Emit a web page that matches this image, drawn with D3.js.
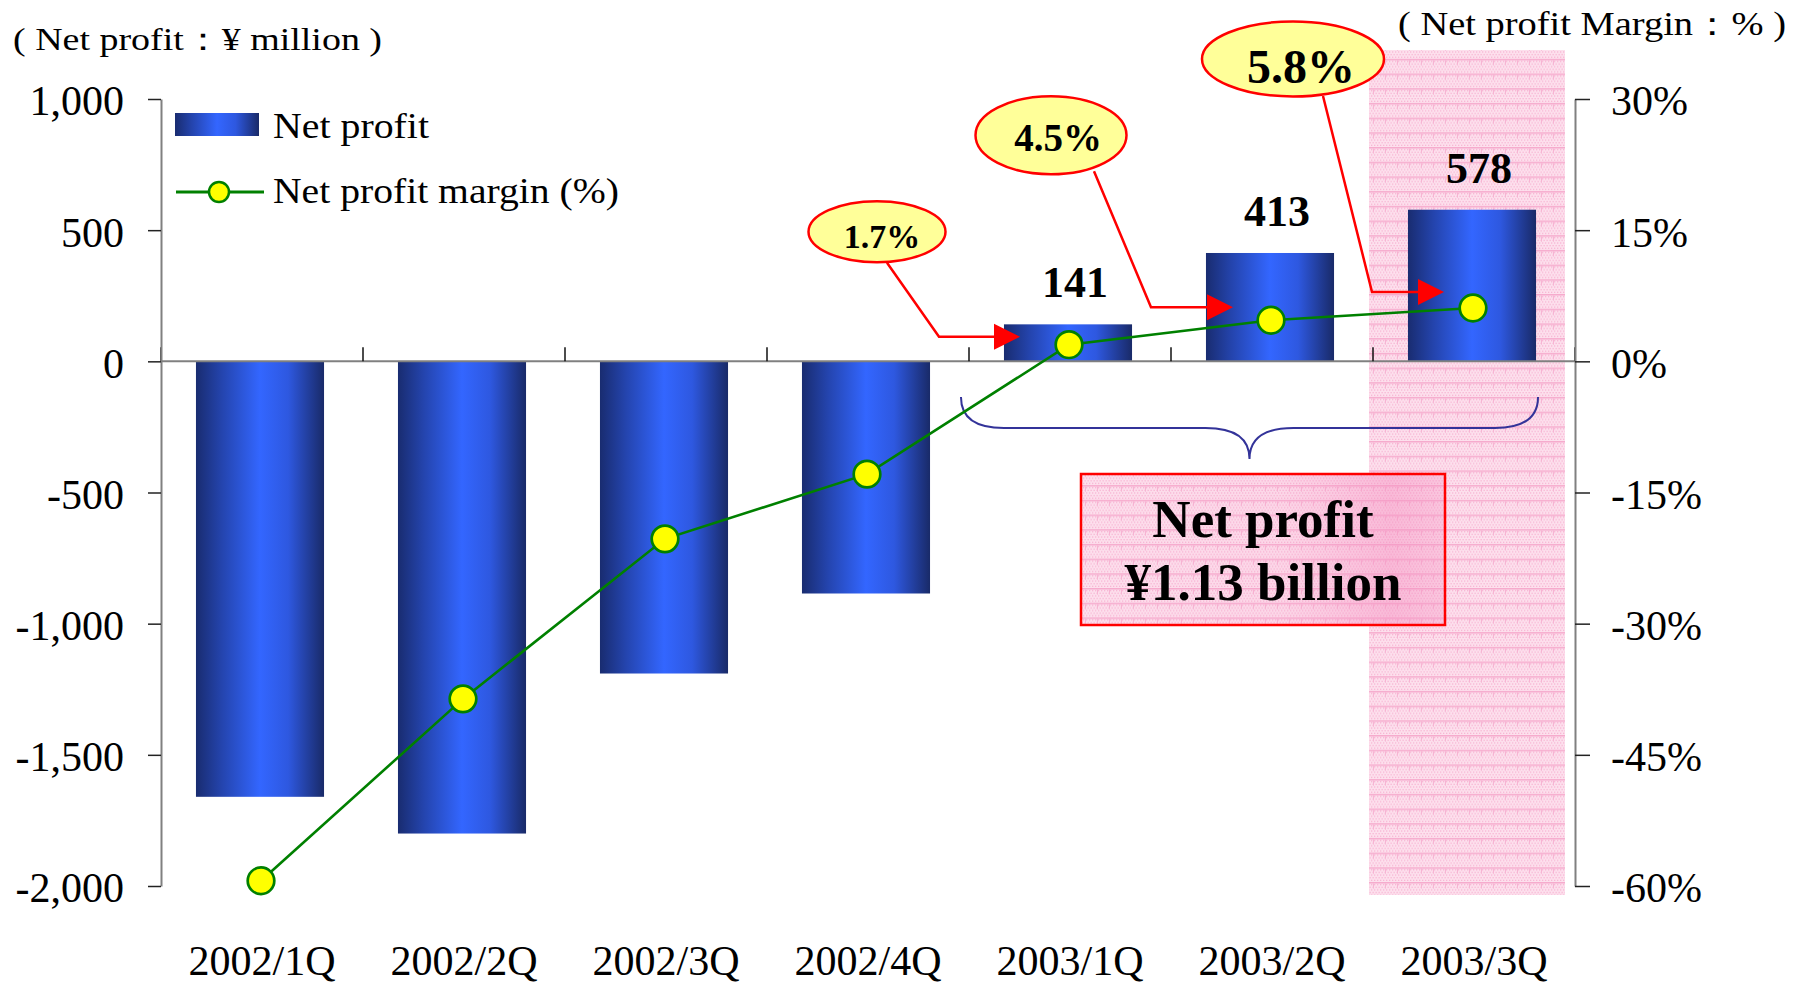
<!DOCTYPE html>
<html lang="en">
<head>
<meta charset="UTF-8">
<title>Net profit and net profit margin</title>
<script src="https://d3js.org/d3.v7.min.js"></script>
<style>
    body { margin: 0; background: #fff; }
    svg { display: block; }
    text { font-family: "Liberation Serif", "Times New Roman", serif; fill: #000; }
</style>
</head>
<body>
<script>
    // data
    const categories = ["2002/1Q", "2002/2Q", "2002/3Q", "2002/4Q", "2003/1Q", "2003/2Q", "2003/3Q"];
    const netProfit = [-1660, -1800, -1190, -885, 141, 413, 578];          // ¥ million
    const profitMargin = [-59.4, -38.6, -20.3, -12.9, 1.9, 4.7, 6.1];       // %
    const leftTicks = [-2000, -1500, -1000, -500, 0, 500, 1000];
    const leftTickLabels = ["-2,000", "-1,500", "-1,000", "-500", "0", "500", "1,000"];
    const rightTicks = [-60, -45, -30, -15, 0, 15, 30];
    const rightTickLabels = ["-60%", "-45%", "-30%", "-15%", "0%", "15%", "30%"];
    const calloutCats = ["2003/1Q", "2003/2Q", "2003/3Q"];
    const calloutTexts = ["1.7%", "4.5%", "5.8%"];
    const totalLines = ["Net profit", "¥1.13 billion"];

    const W = 1807, H = 986;
    const plotLeft = 161, plotRight = 1575, plotTop = 99, plotBottom = 886;

    const svg = d3.select("body").append("svg").attr("width", W).attr("height", H);
    const defs = svg.append("defs");

    // blue cylinder-ish gradient for the bars
    const grad = defs.append("linearGradient").attr("id", "barGrad")
        .attr("x1", 0).attr("x2", 1).attr("y1", 0).attr("y2", 0);
    [[0, "#192c70"], [0.2, "#2444ad"], [0.5, "#3366ff"], [0.72, "#2e58e0"], [1, "#192a68"]]
        .forEach(s => grad.append("stop").attr("offset", s[0]).attr("stop-color", s[1]));

    // pink paper texture
    const pat = defs.append("pattern").attr("id", "pinkTex")
        .attr("width", 12).attr("height", 14.7).attr("patternUnits", "userSpaceOnUse");
    pat.append("rect").attr("width", 12).attr("height", 14.7).attr("fill", "#fde0ed");
    for (let j = 0; j < 5; j++) {
        for (let i = 0; i < 4; i++) {
            pat.append("rect").attr("x", i * 3 + (j % 2) * 1.5).attr("y", 2 + j * 2.6)
                .attr("width", 1.3).attr("height", 1.3).attr("fill", "#f8b6d4");
        }
    }
    pat.append("rect").attr("width", 12).attr("height", 1.5).attr("fill", "#f6abcd");
    pat.append("rect").attr("x", 5).attr("y", 1.5).attr("width", 1).attr("height", 5).attr("fill", "#f7b4d3");

    const glow = defs.append("linearGradient").attr("id", "boxGlow")
        .attr("x1", 0).attr("x2", 1).attr("y1", 0).attr("y2", 0);
    [[0, "rgba(246,150,196,0)"], [0.55, "rgba(246,150,196,0.12)"], [0.85, "rgba(244,140,190,0.45)"], [1, "rgba(244,140,190,0.3)"]]
        .forEach(s => glow.append("stop").attr("offset", s[0]).attr("stop-color", s[1]));

    // scales
    const x = d3.scaleBand().domain(categories).range([plotLeft, plotRight]).paddingInner(0.366).paddingOuter(0.183);
    const bw = x.bandwidth();
    const xEdge = d3.scaleLinear().domain([0, categories.length]).range([plotLeft, plotRight]);
    const y = d3.scaleLinear().domain([-2000, 1000]).range([plotBottom, plotTop]);
    const yR = d3.scaleLinear().domain([-60, 30]).range([plotBottom, plotTop]);
    const cx = c => x(c) + bw / 2 - 1;

    // highlighted last quarter
    svg.append("rect")
        .attr("x", xEdge(6) - 4).attr("y", 50)
        .attr("width", xEdge(7) - xEdge(6) - 6).attr("height", 845)
        .attr("fill", "url(#pinkTex)");

    // bars
    svg.append("g").selectAll("rect").data(netProfit).join("rect")
        .attr("x", (d, i) => x(categories[i]) - 2)
        .attr("y", d => y(Math.max(0, d)))
        .attr("width", bw)
        .attr("height", d => Math.abs(y(d) - y(0)))
        .attr("fill", "url(#barGrad)");

    // zero line
    svg.append("line")
        .attr("x1", plotLeft).attr("x2", plotRight).attr("y1", y(0)).attr("y2", y(0))
        .attr("stroke", "#808080").attr("stroke-width", 2);

    // category separators on the zero line
    svg.append("g").selectAll("line").data(d3.range(categories.length + 1)).join("line")
        .attr("x1", d => xEdge(d)).attr("x2", d => xEdge(d))
        .attr("y1", y(0)).attr("y2", y(0) - 14)
        .attr("stroke", "#111").attr("stroke-width", 1.5);

    function styleAxis(g) {
        g.attr("font-size", 42).attr("font-family", "Liberation Serif, serif");
        g.select(".domain").attr("stroke", "#808080").attr("stroke-width", 2);
        g.selectAll(".tick line").attr("stroke", "#222").attr("stroke-width", 1.5);
        g.selectAll(".tick text").attr("fill", "#000").attr("dy", "0.38em");
    }

    svg.append("g").attr("transform", `translate(${plotLeft},0)`)
        .call(d3.axisLeft(y).tickValues(leftTicks)
            .tickFormat(d => leftTickLabels[leftTicks.indexOf(d)])
            .tickSize(13).tickSizeOuter(0).tickPadding(24))
        .call(styleAxis);

    svg.append("g").attr("transform", `translate(${plotRight},0)`)
        .call(d3.axisRight(yR).tickValues(rightTicks)
            .tickFormat(d => rightTickLabels[rightTicks.indexOf(d)])
            .tickSize(15).tickSizeOuter(0).tickPadding(21))
        .call(styleAxis);

    // category labels
    const xa = svg.append("g").attr("transform", "translate(0,975)")
        .call(d3.axisBottom(x).tickSize(0).tickPadding(0));
    xa.select(".domain").remove();
    xa.attr("font-size", 42).attr("font-family", "Liberation Serif, serif");
    xa.selectAll(".tick text").attr("y", 0).attr("dy", 0).attr("fill", "#000");

    // bracket over the profitable quarters
    const bL = x("2003/1Q") - 45, bR = x("2003/3Q") + bw, bM = (bL + bR) / 2;
    const b0 = 397, b1 = 428, b2 = 459;
    svg.append("path")
        .attr("d", `M${bL},${b0} Q${bL},${b1} ${bL + 43},${b1} L${bM - 44},${b1} Q${bM},${b1} ${bM},${b2}
                    Q${bM},${b1} ${bM + 44},${b1} L${bR - 43},${b1} Q${bR},${b1} ${bR},${b0}`)
        .attr("fill", "none").attr("stroke", "#333399").attr("stroke-width", 2);

    // total box
    const box = { x: 1081, y: 474, w: 364, h: 151 };
    svg.append("rect").attr("x", box.x).attr("y", box.y).attr("width", box.w).attr("height", box.h)
        .attr("fill", "url(#pinkTex)");
    svg.append("rect").attr("x", box.x).attr("y", box.y).attr("width", box.w).attr("height", box.h)
        .attr("fill", "url(#boxGlow)").attr("stroke", "#ff0000").attr("stroke-width", 2.5);
    svg.append("g").selectAll("text").data(totalLines).join("text")
        .attr("x", box.x + box.w / 2)
        .attr("y", (d, i) => 537 + i * 63)
        .attr("text-anchor", "middle").attr("font-size", 53).attr("font-weight", "bold")
        .text(d => d);

    // margin line
    const line = d3.line().x((d, i) => cx(categories[i])).y(d => yR(d));
    svg.append("path").datum(profitMargin)
        .attr("d", line).attr("fill", "none").attr("stroke", "#008000").attr("stroke-width", 2.6);
    svg.append("g").selectAll("circle").data(profitMargin).join("circle")
        .attr("cx", (d, i) => cx(categories[i])).attr("cy", d => yR(d)).attr("r", 13.3)
        .attr("fill", "#ffff00").attr("stroke", "#008000").attr("stroke-width", 2.7);

    // value labels on the positive bars
    svg.append("g").selectAll("text").data(netProfit.map((v, i) => ({ v, c: categories[i] })).filter(d => d.v > 0))
        .join("text")
        .attr("x", d => cx(d.c) + 6).attr("y", d => y(d.v) - 27)
        .attr("text-anchor", "middle").attr("font-size", 44).attr("font-weight", "bold")
        .text(d => d.v);

    // callouts: offsets from the marker they point at
    const calloutGeom = [
        { tip: [-49, -8], elbow: [-130, -8], start: [-182, -82], ell: [-192, -113], rx: 68.5, ry: 30.5, fs: 34, tx: 5, ty: 16.5 },
        { tip: [-38, -13], elbow: [-120, -13], start: [-177, -149], ell: [-220, -185], rx: 75.5, ry: 39, fs: 39, tx: 7, ty: 16 },
        { tip: [-29, -16], elbow: [-101, -16], start: [-150, -212], ell: [-180, -249], rx: 91, ry: 37.5, fs: 48, tx: 8, ty: 24.5 }
    ];
    calloutCats.forEach((c, k) => {
        const i = categories.indexOf(c);
        const px = cx(c), py = yR(profitMargin[i]);
        const g = calloutGeom[k];
        const P = o => [px + o[0], py + o[1]];
        const tip = P(g.tip), elbow = P(g.elbow), st = P(g.start), el = P(g.ell);
        const ga = svg.append("g");
        ga.append("polyline")
            .attr("points", [st, elbow, [tip[0] - 20, tip[1]]].map(p => p.join(",")).join(" "))
            .attr("fill", "none").attr("stroke", "#ff0000").attr("stroke-width", 2.5);
        ga.append("path")
            .attr("d", `M${tip[0]},${tip[1]} L${tip[0] - 26},${tip[1] - 13} L${tip[0] - 26},${tip[1] + 13} Z`)
            .attr("fill", "#ff0000");
        ga.append("ellipse").attr("cx", el[0]).attr("cy", el[1]).attr("rx", g.rx).attr("ry", g.ry)
            .attr("fill", "#ffff99").attr("stroke", "#ff0000").attr("stroke-width", 2.5);
        ga.append("text").attr("x", el[0] + g.tx).attr("y", el[1] + g.ty)
            .attr("text-anchor", "middle").attr("font-size", g.fs).attr("font-weight", "bold")
            .text(calloutTexts[k]);
    });

    // legend
    const lg = svg.append("g");
    lg.append("rect").attr("x", 175).attr("y", 113).attr("width", 84).attr("height", 23).attr("fill", "url(#barGrad)");
    lg.append("text").attr("x", 273).attr("y", 138).attr("font-size", 36)
        .attr("textLength", 156).attr("lengthAdjust", "spacingAndGlyphs").text("Net profit");
    lg.append("line").attr("x1", 176).attr("x2", 264).attr("y1", 192).attr("y2", 192)
        .attr("stroke", "#008000").attr("stroke-width", 3);
    lg.append("circle").attr("cx", 219).attr("cy", 192).attr("r", 10)
        .attr("fill", "#ffff00").attr("stroke", "#008000").attr("stroke-width", 2.5);
    lg.append("text").attr("x", 273).attr("y", 203).attr("font-size", 36)
        .attr("textLength", 346).attr("lengthAdjust", "spacingAndGlyphs").text("Net profit margin (%)");

    // unit captions
    svg.append("text").attr("x", 13).attr("y", 50).attr("font-size", 32)
        .attr("textLength", 369).attr("lengthAdjust", "spacingAndGlyphs")
        .text("( Net profit：¥ million )");
    svg.append("text").attr("x", 1398).attr("y", 35).attr("font-size", 33)
        .attr("textLength", 388).attr("lengthAdjust", "spacingAndGlyphs")
        .text("( Net profit Margin：% )");
</script>
</body>
</html>
